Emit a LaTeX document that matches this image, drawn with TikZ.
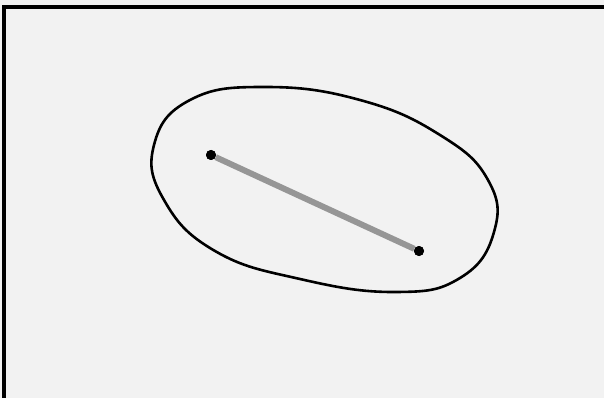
\documentclass[tikz,border=0pt]{standalone}
\usetikzlibrary{positioning}
\definecolor{paper}{HTML}{F2F2F2}
\definecolor{segment}{HTML}{969696}

\begin{document}
\begin{tikzpicture}[
  x=1pt, y=-1pt,
  dot/.style={circle, fill=black, inner sep=0pt, minimum size=10pt},
  outline/.style={draw=black, line width=2.6pt},
  link/.style={draw=segment, line width=6pt}
]

% Canvas and frame
\fill[paper] (0,0) rectangle (604,398);
\useasboundingbox (0,0) rectangle (604,398);
\draw[line width=3.5pt] (4,398) -- (4,7) -- (604,7);

% Closed curve
\draw[outline] plot[smooth cycle, tension=0.75] coordinates {
  (154,145) (190,100) (265,87) (360,100) (440,135) (488,180)
  (494,232) (460,278) (395,292) (300,279) (215,251) (164,200)};

% End points
\node[dot] (p) at (211,155) {};
\node[dot] (q) at (419,251) {};

% Segment
\draw[link] (p) -- (q);
\node[dot] at (p) {};
\node[dot] at (q) {};

\end{tikzpicture}
\end{document}
